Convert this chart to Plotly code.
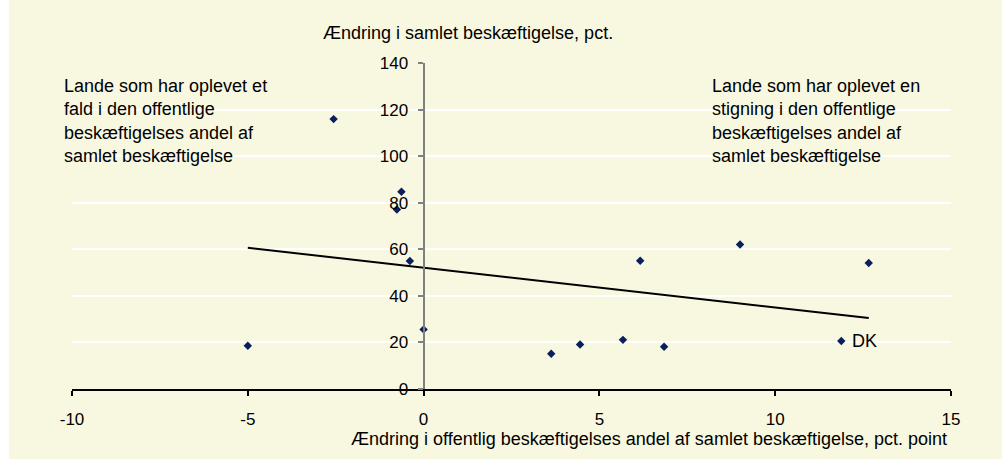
import numpy as np
import plotly.graph_objects as go

# Change in public employment share (pct. point) vs change in total employment (pct.)
x_change = [-5.0, -2.56, -0.63, -0.76, -0.39, 0.0, 3.63, 4.45, 5.67, 6.84, 6.16, 9.0, 11.88, 12.66]
y_change = [18.6, 115.9, 84.7, 77.1, 55.0, 25.6, 15.1, 19.1, 21.1, 18.1, 55.1, 62.1, 20.6, 54.1]
point_labels = ["", "", "", "", "", "", "", "", "", "", "", "", "DK", ""]

x_ticks = [-10, -5, 0, 5, 10, 15]
x_tick_text = ["-10", "-5", "0", "5", "10", "15"]
y_ticks = [0, 20, 40, 60, 80, 100, 120, 140]

y_title = "Ændring i samlet beskæftigelse, pct."
x_title = "Ændring i offentlig beskæftigelses andel af samlet beskæftigelse, pct. point"
left_note = "Lande som har oplevet et<br>fald i den offentlige<br>beskæftigelses andel af<br>samlet beskæftigelse"
right_note = "Lande som har oplevet en<br>stigning i den offentlige<br>beskæftigelses andel af<br>samlet beskæftigelse"

BG = "#F8F8E1"
FONT = "Liberation Sans, Arial, sans-serif"
W, H = 1002, 459
ML, MR, MT, MB = 72, 51, 63, 70
PW, PH = W - ML - MR, H - MT - MB

def px(xp):
    return (xp - ML) / PW

def py(yp):
    return (H - MB - yp) / PH

# linear trend line (least squares) over data range
slope, intercept = np.polyfit(x_change, y_change, 1)
tx = [min(x_change), max(x_change)]
ty = [slope * v + intercept for v in tx]

fig = go.Figure()
fig.add_trace(go.Scatter(x=tx, y=ty, mode="lines",
                         line=dict(color="black", width=2), hoverinfo="skip",
                         showlegend=False))
fig.add_trace(go.Scatter(x=x_change, y=y_change, mode="markers",
                         marker=dict(symbol="diamond", size=6.5, color="#0B1F5C"),
                         showlegend=False))

for xv, yv, lab in zip(x_change, y_change, point_labels):
    if lab:
        fig.add_annotation(x=xv, y=yv, text=lab, showarrow=False, xanchor="left",
                           yanchor="middle", xshift=9, font=dict(size=18, color="black"))

fig.add_annotation(x=px(62), y=py(74), xref="paper", yref="paper", text=left_note,
                   showarrow=False, xanchor="left", yanchor="top", align="left",
                   font=dict(size=18, color="black"))
fig.add_annotation(x=px(710), y=py(74), xref="paper", yref="paper", text=right_note,
                   showarrow=False, xanchor="left", yanchor="top", align="left",
                   font=dict(size=18, color="black"))
fig.add_annotation(x=px(468), y=py(33), xref="paper", yref="paper", text=y_title,
                   showarrow=False, xanchor="center", yanchor="middle",
                   font=dict(size=18, color="black"))
fig.add_annotation(x=px(949), y=py(439), xref="paper", yref="paper", text=x_title,
                   showarrow=False, xanchor="right", yanchor="middle",
                   font=dict(size=18, color="black"))

# white strip at the left edge
fig.add_shape(type="rect", xref="paper", yref="paper", x0=px(-2), x1=px(9),
              y0=py(H + 2), y1=py(-2), fillcolor="white", line=dict(width=0), layer="above")

fig.update_layout(
    width=W, height=H,
    margin=dict(l=ML, r=MR, t=MT, b=MB),
    paper_bgcolor=BG, plot_bgcolor=BG,
    font=dict(family=FONT, size=17, color="black"),
    xaxis=dict(range=[-10, 15], tickvals=x_ticks, ticktext=x_tick_text,
               showgrid=False, zeroline=False,
               showline=True, linecolor="black", linewidth=1.5,
               ticks="outside", ticklen=5, tickcolor="black", tickwidth=1.5,
               ticklabelstandoff=9),
    yaxis=dict(range=[0, 140], tickvals=y_ticks, showgrid=True, gridcolor="white",
               gridwidth=1.5, zeroline=False, anchor="free", position=0.4,
               showline=True, linecolor="#808080", linewidth=2,
               ticks="outside", ticklen=5, tickcolor="#808080", tickwidth=1.5,
               ticklabelstandoff=6),
    showlegend=False,
)

fig.write_html("out.html", config={"displayModeBar": False},
               post_script="document.body.style.margin='0';document.body.style.padding='0';")
